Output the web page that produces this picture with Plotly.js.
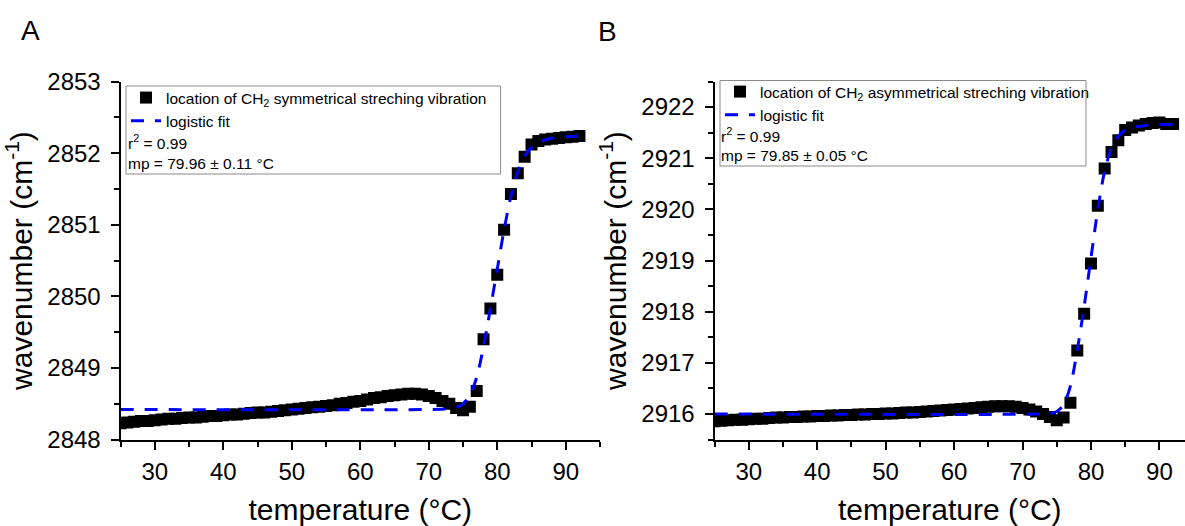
<!DOCTYPE html>
<html>
<head>
<meta charset="utf-8">
<script src="https://cdn.plot.ly/plotly-3.0.1.min.js"></script>
<style>html,body{margin:0;padding:0;background:#fff;}#chart{width:1185px;height:526px;}</style>
</head>
<body>
<div id="chart"></div>
<script>
// ---------- data ----------
const tempA = [25,26,27,28,29,30,31,32,33,34,35,36,37,38,39,40,41,42,43,44,45,46,47,48,49,50,51,52,53,54,55,56,57,58,59,60,61,62,63,64,65,66,67,68,69,70,71,72,73,74,75,76,77,78,79,80,81,82,83,84,85,86,87,88,89,90,91,92];
const waveA = [2848.23,2848.24,2848.25,2848.26,2848.26,2848.27,2848.28,2848.29,2848.29,2848.30,2848.31,2848.31,2848.32,2848.33,2848.33,2848.34,2848.35,2848.35,2848.36,2848.37,2848.38,2848.38,2848.39,2848.40,2848.41,2848.42,2848.43,2848.44,2848.45,2848.46,2848.47,2848.48,2848.50,2848.51,2848.53,2848.54,2848.56,2848.58,2848.59,2848.61,2848.62,2848.63,2848.64,2848.64,2848.63,2848.61,2848.58,2848.54,2848.50,2848.44,2848.41,2848.46,2848.68,2849.40,2849.83,2850.30,2850.93,2851.43,2851.72,2851.95,2852.12,2852.17,2852.19,2852.20,2852.21,2852.22,2852.23,2852.24];
const fitTempA = [25,70,73,74,75,76,77,78,79,80,81,82,83,84,85,86,88,90,92];
const fitWaveA = [2848.42,2848.42,2848.43,2848.45,2848.50,2848.62,2848.87,2849.30,2849.83,2850.38,2850.93,2851.40,2851.74,2851.96,2852.08,2852.15,2852.21,2852.23,2852.24];

const tempB = [25,26,27,28,29,30,31,32,33,34,35,36,37,38,39,40,41,42,43,44,45,46,47,48,49,50,51,52,53,54,55,56,57,58,59,60,61,62,63,64,65,66,67,68,69,70,71,72,73,74,75,76,77,78,79,80,81,82,83,84,85,86,87,88,89,90,91,92];
const waveB = [2915.86,2915.87,2915.88,2915.89,2915.89,2915.90,2915.91,2915.91,2915.92,2915.93,2915.93,2915.94,2915.94,2915.95,2915.95,2915.96,2915.96,2915.97,2915.97,2915.98,2915.98,2915.99,2915.99,2916.00,2916.00,2916.01,2916.01,2916.02,2916.03,2916.03,2916.04,2916.05,2916.06,2916.07,2916.08,2916.09,2916.10,2916.11,2916.12,2916.13,2916.14,2916.15,2916.15,2916.15,2916.14,2916.12,2916.09,2916.05,2916.00,2915.94,2915.88,2915.93,2916.22,2917.24,2917.96,2918.94,2920.07,2920.80,2921.12,2921.35,2921.55,2921.60,2921.64,2921.67,2921.69,2921.70,2921.67,2921.67];
const fitTempB = [25,73,74,75,76,77,78,79,80,81,82,83,84,85,86,88,90,92];
const fitWaveB = [2916.00,2916.00,2916.01,2916.05,2916.18,2916.55,2917.25,2918.10,2919.05,2920.00,2920.75,2921.20,2921.43,2921.55,2921.60,2921.64,2921.66,2921.66];

const nameDataA = 'location of CH<sub>2</sub> symmetrical streching vibration';
const nameDataB = 'location of CH<sub>2</sub> asymmetrical streching vibration';
const nameFit = 'logistic fit';
const statsA = ['r<sup>2</sup> = 0.99', 'mp = 79.96 \u00b1 0.11 \u00b0C'];
const statsB = ['r<sup>2</sup> = 0.99', 'mp = 79.85 \u00b1 0.05 \u00b0C'];

// ---------- geometry helpers (pixels -> paper) ----------
const W = 1185, H = 526;
const px = v => v / W;
const py = v => 1 - v / H;
const FONT = 'Liberation Sans, Arial, sans-serif';
const LEGSIZE = 15.5;

const markerStyle = {symbol: 'square', size: 12, color: '#000000', line: {width: 0}};
const fitStyle = {color: '#0000ff', width: 3, dash: '13px,11px', shape: 'spline', smoothing: 0.8};

const traces = [
  {x: tempA, y: waveA, type: 'scatter', mode: 'markers', name: nameDataA, marker: markerStyle, xaxis: 'x', yaxis: 'y', legend: 'legend'},
  {x: fitTempA, y: fitWaveA, type: 'scatter', mode: 'lines', name: nameFit, line: fitStyle, xaxis: 'x', yaxis: 'y', legend: 'legend'},
  {x: tempB, y: waveB, type: 'scatter', mode: 'markers', name: nameDataB, marker: markerStyle, xaxis: 'x2', yaxis: 'y2', legend: 'legend2'},
  {x: fitTempB, y: fitWaveB, type: 'scatter', mode: 'lines', name: nameFit, line: fitStyle, xaxis: 'x2', yaxis: 'y2', legend: 'legend2'}
];

const axisCommon = {
  showline: true, linecolor: '#000', linewidth: 2, mirror: false,
  ticks: 'outside', ticklen: 8, tickwidth: 2, tickcolor: '#000',
  showgrid: false, zeroline: false,
  tickfont: {family: FONT, size: 24, color: '#000'},
  automargin: false, fixedrange: true
};
const yDomain = [py(439.6), py(81.5)];
const titleFont = {family: FONT, size: 30, color: '#000'};

const layout = {
  width: W, height: H,
  margin: {l: 0, r: 0, t: 0, b: 0},
  paper_bgcolor: '#fff', plot_bgcolor: '#fff',
  font: {family: FONT, color: '#000'},
  showlegend: true,
  xaxis: Object.assign({}, axisCommon, {
    domain: [px(120.5), px(600)], range: [25, 95], anchor: 'y',
    tick0: 0, dtick: 10, ticklabelstandoff: 2,
    minor: {dtick: 5, tick0: 0, ticks: 'outside', ticklen: 5, tickwidth: 2, tickcolor: '#000', showgrid: false},
    title: {text: 'temperature (\u00b0C)', font: titleFont, standoff: 22}
  }),
  yaxis: Object.assign({}, axisCommon, {
    domain: yDomain, range: [2848, 2853], anchor: 'x',
    tick0: 2848, dtick: 1, ticklabelstandoff: 5,
    minor: {dtick: 0.5, tick0: 2848, ticks: 'outside', ticklen: 5, tickwidth: 2, tickcolor: '#000', showgrid: false},
    title: {text: 'wavenumber (cm<sup>-1</sup>)', font: titleFont, standoff: 6}
  }),
  xaxis2: Object.assign({}, axisCommon, {
    domain: [px(714.5), 1], range: [25, 25 + (1185 - 714.5) / 6.845], anchor: 'y2',
    tick0: 0, dtick: 10, ticklabelstandoff: 2,
    minor: {dtick: 5, tick0: 0, ticks: 'outside', ticklen: 5, tickwidth: 2, tickcolor: '#000', showgrid: false},
    title: {text: 'temperature (\u00b0C)', font: titleFont, standoff: 22}
  }),
  yaxis2: Object.assign({}, axisCommon, {
    domain: yDomain, range: [2915.5, 2922.5], anchor: 'x2',
    tick0: 2916, dtick: 1, ticklabelstandoff: 5,
    minor: {dtick: 0.5, tick0: 2915.5, ticks: 'outside', ticklen: 5, tickwidth: 2, tickcolor: '#000', showgrid: false},
    title: {text: 'wavenumber (cm<sup>-1</sup>)', font: titleFont, standoff: 6}
  }),
  legend: {
    x: px(126), y: py(81), xanchor: 'left', yanchor: 'top',
    bgcolor: 'rgba(0,0,0,0)', borderwidth: 0,
    font: {family: FONT, size: LEGSIZE, color: '#000'}, tracegroupgap: 0, itemwidth: 30
  },
  legend2: {
    x: px(720), y: py(75), xanchor: 'left', yanchor: 'top',
    bgcolor: 'rgba(0,0,0,0)', borderwidth: 0,
    font: {family: FONT, size: LEGSIZE, color: '#000'}, tracegroupgap: 0, itemwidth: 30
  },
  shapes: [
    {type: 'rect', xref: 'paper', yref: 'paper', x0: px(126), x1: px(500.6), y0: py(174), y1: py(86), line: {color: '#8a8a8a', width: 1}, fillcolor: 'rgba(0,0,0,0)', layer: 'above'},
    {type: 'rect', xref: 'paper', yref: 'paper', x0: px(720), x1: px(1086), y0: py(166), y1: py(80.5), line: {color: '#8a8a8a', width: 1}, fillcolor: 'rgba(0,0,0,0)', layer: 'above'}
  ],
  annotations: [
    {text: 'A', xref: 'paper', yref: 'paper', x: px(31), y: py(30), xanchor: 'center', yanchor: 'middle', showarrow: false, font: {family: FONT, size: 28, color: '#000'}},
    {text: 'B', xref: 'paper', yref: 'paper', x: px(607.5), y: py(31.4), xanchor: 'center', yanchor: 'middle', showarrow: false, font: {family: FONT, size: 28, color: '#000'}},
    {text: statsA[0], xref: 'paper', yref: 'paper', x: px(126), y: py(141.6), xanchor: 'left', yanchor: 'middle', showarrow: false, font: {family: FONT, size: LEGSIZE, color: '#000'}},
    {text: statsA[1], xref: 'paper', yref: 'paper', x: px(126), y: py(163.4), xanchor: 'left', yanchor: 'middle', showarrow: false, font: {family: FONT, size: LEGSIZE, color: '#000'}},
    {text: statsB[0], xref: 'paper', yref: 'paper', x: px(719), y: py(134.9), xanchor: 'left', yanchor: 'middle', showarrow: false, font: {family: FONT, size: LEGSIZE, color: '#000'}},
    {text: statsB[1], xref: 'paper', yref: 'paper', x: px(719), y: py(155.4), xanchor: 'left', yanchor: 'middle', showarrow: false, font: {family: FONT, size: LEGSIZE, color: '#000'}}
  ]
};

Plotly.newPlot('chart', traces, layout, {displayModeBar: false, staticPlot: true});
</script>
</body>
</html>
